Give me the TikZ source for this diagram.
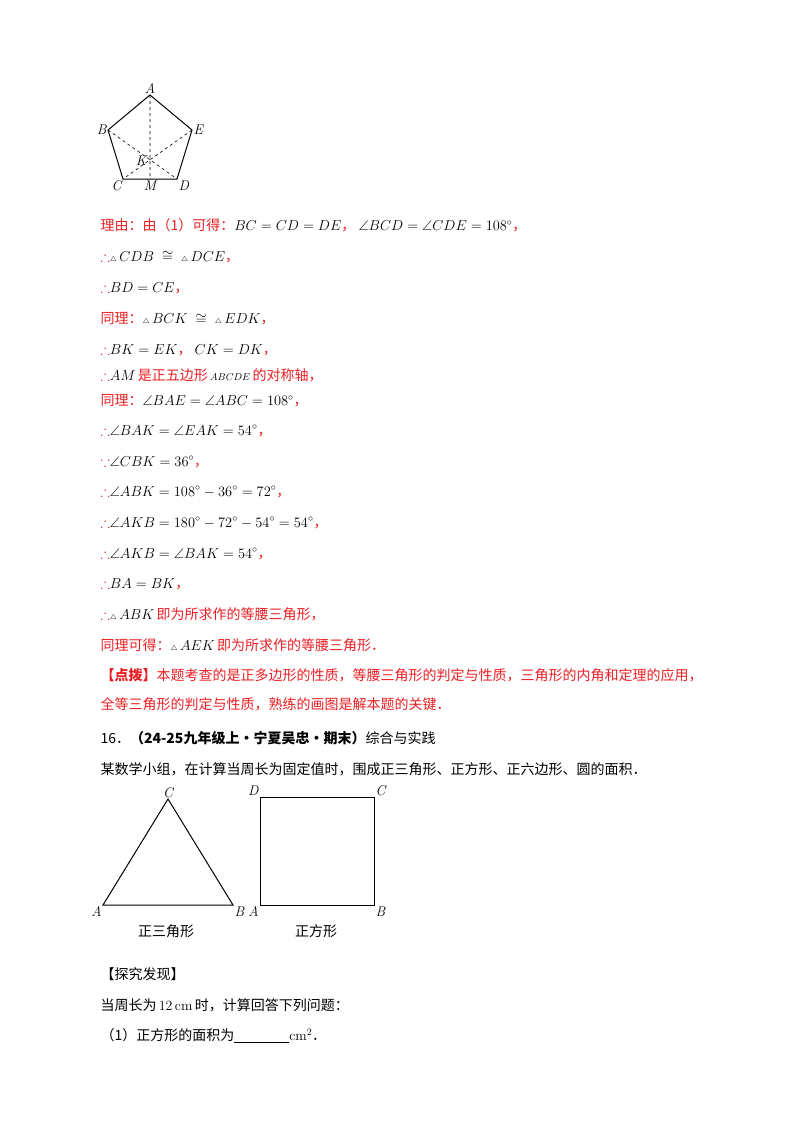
\documentclass[tikz,border=0pt]{standalone}
\usepackage{fontspec}
\usepackage{amssymb}
\newfontfamily\cjk{Noto Sans CJK SC}
\definecolor{ansred}{RGB}{235,30,35}
\newcommand{\tri}{{\scriptscriptstyle\triangle}\,}
\tikzset{every picture/.style={line width=1pt}}
\tikzset{
  txt/.style={anchor=west,inner sep=0pt,font=\fontsize{14}{16}\selectfont\cjk},
  rtxt/.style={txt,text=ansred},
  lbl/.style={inner sep=1pt,font=\fontsize{14}{16}\selectfont\itshape},
  pt/.style={inner sep=0pt,minimum size=0pt}
}
\begin{document}
\begin{tikzpicture}[x=1pt,y=1pt,yscale=-1]
\useasboundingbox (0,0) rectangle (800,1132);

%Pentagon
\coordinate (pA) at (150,95);
\coordinate (pB) at (108,130);
\coordinate (pC) at (123,179);
\coordinate (pD) at (177,179);
\coordinate (pE) at (192,130);
\coordinate (pM) at (150,179);
\coordinate (pK) at (150,161);
\draw (pA) -- (pB) -- (pC) -- (pD) -- (pE) -- cycle;
\draw [dashed,line width=0.6pt] (pA) -- (pM) (pB) -- (pD) (pE) -- (pC);
\node [lbl,above] at (pA) {A};
\node [lbl,left] at (pB) {B};
\node [lbl,right] at (pE) {E};
\node [lbl,below left] at (pC) {C};
\node [lbl,below right] at (pD) {D};
\node [lbl,below] at (pM) {M};
\node [lbl,left] at ([xshift=-2pt]pK) {K};

%Reasoning
\node [rtxt] (l1) at (100,225) {理由：由（1）可得：\textcolor{black}{$BC=CD=DE$}，\ \textcolor{black}{$\angle BCD=\angle CDE=108^\circ$}，};
\node [rtxt] (l2) at (100,257) {$\therefore$\textcolor{black}{$\tri CDB\;\cong\;\tri DCE$}，};
\node [rtxt] (l3) at (100,288) {$\therefore$\textcolor{black}{$BD=CE$}，};
\node [rtxt] (l4) at (100,319) {同理：\textcolor{black}{$\tri BCK\;\cong\;\tri EDK$}，};
\node [rtxt] (l5) at (100,350) {$\therefore$\textcolor{black}{$BK=EK$}，\ \textcolor{black}{$CK=DK$}，};
\node [rtxt] (l6) at (100,375) {$\therefore$\textcolor{black}{$AM$}\,是正五边形\,\textcolor{black}{$\scriptstyle ABCDE$}\,的对称轴，};
\node [rtxt] (l7) at (100,401) {同理：\textcolor{black}{$\angle BAE=\angle ABC=108^\circ$}，};
\node [rtxt] (l8) at (100,431) {$\therefore$\textcolor{black}{$\angle BAK=\angle EAK=54^\circ$}，};
\node [rtxt] (l9) at (100,462) {$\because$\textcolor{black}{$\angle CBK=36^\circ$}，};
\node [rtxt] (l10) at (100,492) {$\therefore$\textcolor{black}{$\angle ABK=108^\circ-36^\circ=72^\circ$}，};
\node [rtxt] (l11) at (100,523) {$\therefore$\textcolor{black}{$\angle AKB=180^\circ-72^\circ-54^\circ=54^\circ$}，};
\node [rtxt] (l12) at (100,554) {$\therefore$\textcolor{black}{$\angle AKB=\angle BAK=54^\circ$}，};
\node [rtxt] (l13) at (100,584) {$\therefore$\textcolor{black}{$BA=BK$}，};
\node [rtxt] (l14) at (100,614) {$\therefore$\textcolor{black}{$\tri ABK$}\,即为所求作的等腰三角形，};
\node [rtxt] (l15) at (100,645) {同理可得：\textcolor{black}{$\tri AEK$}\,即为所求作的等腰三角形．};
\node [rtxt] (l16) at (100,675) {\textbf{【点拨】}本题考查的是正多边形的性质，等腰三角形的判定与性质，三角形的内角和定理的应用，};
\node [rtxt] (l17) at (100,704) {全等三角形的判定与性质，熟练的画图是解本题的关键．};
\node [txt] (l18) at (100,738) {16．\textbf{（24-25九年级上·宁夏吴忠·期末）}综合与实践};
\node [txt] (l19) at (100,769) {某数学小组，在计算当周长为固定值时，围成正三角形、正方形、正六边形、圆的面积．};

%Triangle
\coordinate (tA) at (103,905);
\coordinate (tB) at (233,905);
\coordinate (tC) at (168,799);
\draw (tA) -- (tB) -- (tC) -- cycle;
\node [lbl,below left] at (tA) {A};
\node [lbl,below right] at (tB) {B};
\node [lbl,above] at (tC) {C};
\node [txt,anchor=center] (tname) at (166,931) {正三角形};

%Square
\coordinate (sA) at (260,905);
\coordinate (sB) at (374,905);
\coordinate (sC) at (374,797);
\coordinate (sD) at (260,797);
\draw (sA) -- (sB) -- (sC) -- (sD) -- cycle;
\node [lbl,below left] at (sA) {A};
\node [lbl,below right] at (sB) {B};
\node [lbl,above right] at (sC) {C};
\node [lbl,above left] at (sD) {D};
\node [txt,anchor=center] (sname) at (316,931) {正方形};

\node [txt] (l20) at (100,974) {【探究发现】};
\node [txt] (l21) at (100,1005) {当周长为\,$\mathrm{12\,cm}$\,时，计算回答下列问题：};
\node [txt] (l22) at (100,1036) {（1）正方形的面积为\underline{\hspace{55pt}}$\mathrm{cm^2}$．};
\end{tikzpicture}
\end{document}
